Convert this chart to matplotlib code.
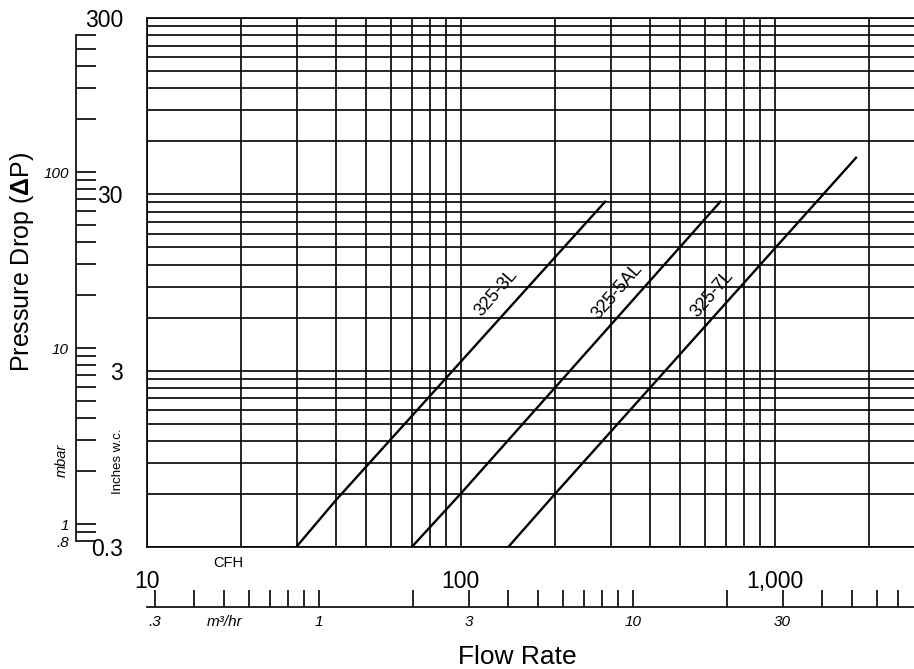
import matplotlib
matplotlib.use("Agg")
import matplotlib.pyplot as plt
from matplotlib.ticker import FixedLocator, FixedFormatter, NullFormatter

plt.rcParams['font.family'] = ['Liberation Sans', 'DejaVu Sans']
plt.rcParams['mathtext.fontset'] = 'custom'
plt.rcParams['mathtext.rm'] = 'Liberation Sans'
plt.rcParams['mathtext.it'] = 'Liberation Sans:italic'
plt.rcParams['mathtext.bf'] = 'Liberation Sans:bold'

# ---------------- data ----------------
flow_325_3L = [30, 40, 290]
dp_325_3L = [0.3, 0.55, 27.6]
flow_325_5AL = [70, 100, 675]
dp_325_5AL = [0.3, 0.6, 27.6]
flow_325_7L = [142, 200, 1825]
dp_325_7L = [0.3, 0.6, 49]

series_names = ["325-3L", "325-5AL", "325-7L"]
label_flow = [129.6, 314.7, 631]
label_dp = [8.26, 8.4, 8.14]

x_major = [10, 100, 1000]
x_major_labels = ["10", "100", "1,000"]
x_minor = [20, 30, 40, 50, 60, 70, 80, 90,
           200, 300, 400, 500, 600, 700, 800, 900, 2000]
y_major = [0.3, 3, 30, 300]
y_major_labels = ["0.3", "3", "30", "300"]
y_minor = [0.6, 0.9, 1.2, 1.5, 1.8, 2.1, 2.4, 2.7,
           6, 9, 12, 15, 18, 21, 24, 27,
           60, 90, 120, 150, 180, 210, 240, 270]

mbar_ticks = [0.8, 0.9, 1, 2, 3, 4, 5, 6, 7, 8, 9, 10,
              20, 30, 40, 50, 60, 70, 80, 90, 100, 200, 300, 400, 500, 600]
mbar_labels = {0.8: ".8", 1: "1", 10: "10", 100: "100"}
m3h_ticks = [0.3, 0.4, 0.5, 0.6, 0.7, 0.8, 0.9, 1, 2, 3, 4, 5, 6, 7, 8, 9,
             10, 20, 30, 40, 50, 60, 70]
m3h_labels = {0.3: ".3", 0.5: "m³/hr", 1: "1", 3: "3", 10: "10", 30: "30"}

MBAR_PER_INWC = 2.4884
CFH_PER_M3H = 35.3147

# ---------------- figure ----------------
W, H = 914, 669
fig = plt.figure(figsize=(W / 100, H / 100), dpi=100)
x0, x1 = 146.7, 914.0
y0, y1 = 18.3, 546.7
ax = fig.add_axes([x0 / W, 1 - y1 / H, (x1 - x0) / W, (y1 - y0) / H])
ax.set_xscale('log')
ax.set_yscale('log')
ax.set_xlim(10, 2777)
ax.set_ylim(0.3, 300)

ax.xaxis.set_major_locator(FixedLocator(x_major))
ax.xaxis.set_major_formatter(FixedFormatter(x_major_labels))
ax.xaxis.set_minor_locator(FixedLocator(x_minor))
ax.xaxis.set_minor_formatter(NullFormatter())
ax.yaxis.set_major_locator(FixedLocator(y_major))
ax.yaxis.set_major_formatter(FixedFormatter(y_major_labels))
ax.yaxis.set_minor_locator(FixedLocator(y_minor))
ax.yaxis.set_minor_formatter(NullFormatter())

ax.grid(which='both', color='black', linewidth=1.2)
ax.tick_params(which='both', length=0)
ax.tick_params(axis='x', pad=17, labelsize=16.5)
ax.tick_params(axis='y', pad=17, labelsize=16.5)
for s in ['top', 'left', 'bottom']:
    ax.spines[s].set_linewidth(1.2)
    ax.spines[s].set_color('black')
ax.spines['right'].set_visible(False)

for fl, dp in [(flow_325_3L, dp_325_3L), (flow_325_5AL, dp_325_5AL),
               (flow_325_7L, dp_325_7L)]:
    ax.plot(fl, dp, color='black', linewidth=1.7, solid_capstyle='butt', zorder=3)

for name, fx, fy in zip(series_names, label_flow, label_dp):
    ax.text(fx, fy, name, rotation=49, rotation_mode='anchor', ha='center',
            va='center', fontsize=13, zorder=4)

# mbar secondary scale
sec_y = ax.secondary_yaxis(-(x0 - 76) / (x1 - x0),
                           functions=(lambda v: v * MBAR_PER_INWC,
                                      lambda v: v / MBAR_PER_INWC))
sec_y.set_yscale('log')
sec_y.set_ticks(mbar_ticks, labels=[mbar_labels.get(t, "") for t in mbar_ticks],
                fontstyle='italic')
sec_y.yaxis.set_minor_locator(FixedLocator([]))
sec_y.tick_params(direction='in', length=14.4, width=1.2, pad=5, labelsize=11)
sec_y.spines['left'].set_bounds(0.8, 600)
sec_y.spines['left'].set_linewidth(1.2)

# m3/hr secondary scale
sec_x = ax.secondary_xaxis(-(606.7 - y1) / (y1 - y0),
                           functions=(lambda v: v / CFH_PER_M3H,
                                      lambda v: v * CFH_PER_M3H))
sec_x.set_xscale('log')
sec_x.set_ticks(m3h_ticks, labels=[m3h_labels.get(t, "") for t in m3h_ticks],
                fontstyle='italic')
sec_x.xaxis.set_minor_locator(FixedLocator([]))
sec_x.tick_params(direction='in', length=12, width=1.2, pad=6, labelsize=11)
sec_x.spines['bottom'].set_linewidth(1.2)

# free texts
def ft(px, py, s, **kw):
    fig.text(px / W, 1 - py / H, s, ha='center', va='center', **kw)

ft(228, 562.7, "CFH", fontsize=10.5)
ft(517, 657, "Flow Rate", fontsize=19)
ft(22, 262, r"Pressure Drop ($\mathbf{\Delta}$P)", fontsize=18, rotation=90)
ft(118, 461.7, "Inches w.c.", fontsize=9.5, rotation=90)
ft(61.7, 460, "mbar", fontsize=10.5, rotation=90, fontstyle='italic')

fig.savefig("out.png", dpi=100)
